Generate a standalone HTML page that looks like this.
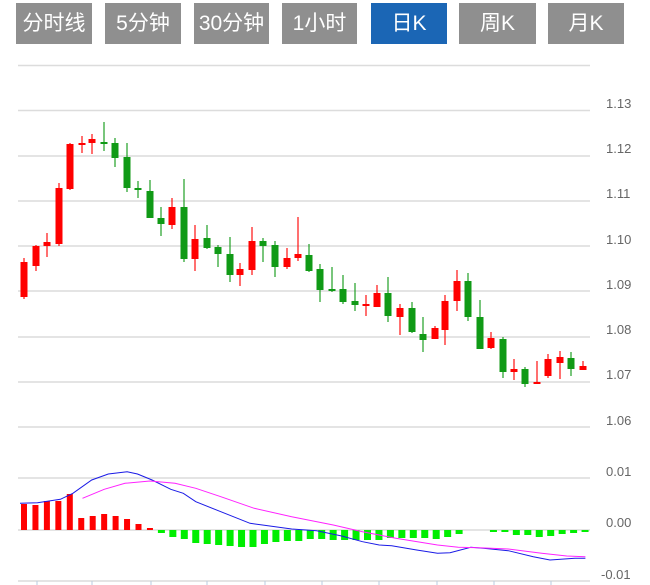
<!DOCTYPE html>
<html><head><meta charset="utf-8"><style>
body{margin:0;background:#fff;width:650px;height:585px;overflow:hidden;font-family:"Liberation Sans","Noto Sans CJK SC",sans-serif}
.b{position:absolute;top:3px;height:41px;background:#8f8f8f;color:#fff;font-size:21px;line-height:41px;text-align:center}
.b.on{background:#1b66b5}
svg{position:absolute;left:0;top:0}
</style></head><body>
<div class="b" style="left:16px;width:76px">分时线</div>
<div class="b" style="left:105px;width:76px">5分钟</div>
<div class="b" style="left:194px;width:75px">30分钟</div>
<div class="b" style="left:282px;width:75px">1小时</div>
<div class="b on" style="left:371px;width:76px">日K</div>
<div class="b" style="left:459px;width:77px">周K</div>
<div class="b" style="left:548px;width:76px">月K</div>
<svg id="s" width="650" height="585" font-family="Liberation Sans, sans-serif" font-size="13" fill="#666">
<g stroke="#dcdcdc" stroke-width="1.5">
<line x1="18" x2="590" y1="65.5" y2="65.5"/><line x1="18" x2="590" y1="110.5" y2="110.5"/>
<line x1="18" x2="590" y1="156" y2="156"/><line x1="18" x2="590" y1="201" y2="201"/>
<line x1="18" x2="590" y1="246" y2="246"/><line x1="18" x2="590" y1="291" y2="291"/>
<line x1="18" x2="590" y1="337" y2="337"/><line x1="18" x2="590" y1="382" y2="382"/>
<line x1="18" x2="590" y1="427" y2="427"/><line x1="18" x2="590" y1="478" y2="478"/>
<line x1="18" x2="590" y1="530" y2="530"/><line x1="18" x2="590" y1="581" y2="581"/>
</g>
<g>
<text x="606" y="108">1.13</text><text x="606" y="153">1.12</text><text x="606" y="198">1.11</text>
<text x="606" y="244">1.10</text><text x="606" y="289">1.09</text><text x="606" y="334">1.08</text>
<text x="606" y="379">1.07</text><text x="606" y="425">1.06</text>
<text x="606" y="476">0.01</text><text x="606" y="527">0.00</text><text x="601" y="579">-0.01</text>
</g>
<g id="tk" stroke="#b8cbe0"></g>
<g id="c"></g>
</svg>
<script>
var ns="http://www.w3.org/2000/svg",g=document.getElementById('c'),tk=document.getElementById('tk');
function el(n,a,p){var e=document.createElementNS(ns,n);for(var k in a)e.setAttribute(k,a[k]);(p||g).appendChild(e);return e}
[37,92,151,207,265,322,379,437,494,551].forEach(function(x){el('line',{x1:x,x2:x,y1:581,y2:585},tk)});
var C=[[24,'r',262,297,258,299],[36,'r',246,266,245,271],[47,'r',242,246,233,257],[59,'r',188,244,183,246],[70,'r',144,189,143,190],
[82,'r',143,145,136,153],[92,'r',139,143,134,154],[104,'g',142,144,122,151],[115,'g',143,158,138,167],[127,'g',157,188,143,192],
[138,'g',188,190,181,198],[150,'g',191,218,180,218],[161,'g',218,224,207,236],[172,'r',207,225,198,229],[184,'g',207,259,179,262],
[195,'r',239,259,225,271],[207,'g',238,248,225,249],[218,'g',247,254,245,267],[230,'g',254,275,237,282],[240,'r',269,275,263,286],
[252,'r',241,270,227,275],[263,'g',241,246,238,262],[275,'g',245,267,241,277],[287,'r',258,267,248,269],[298,'r',254,258,217,261],
[309,'g',255,271,244,272],[320,'g',269,290,264,302],[332,'g',289,291,267,292],[343,'g',289,302,275,304],[355,'g',301,305,283,311],
[366,'r',304,305,295,316],[377,'r',293,307,285,307],[388,'g',293,316,277,322],[400,'r',308,317,304,335],[412,'g',308,332,302,333],
[423,'g',334,340,317,352],[435,'r',328,339,326,339],[445,'r',301,330,295,345],[457,'r',281,301,270,311],[468,'g',281,317,273,321],
[480,'g',317,349,300,349],[491,'r',338,348,332,349],[503,'g',339,372,337,378],[514,'r',369,372,359,380],[525,'g',369,384,367,387],
[537,'r',382,384,361,384],[548,'r',359,376,354,378],[560,'r',357,363,351,379],[571,'g',358,369,352,376],[583,'r',366,370,361,370]];
C.forEach(function(c){var col=c[1]=='r'?'#ff0000':'#109a16';
el('line',{x1:c[0],x2:c[0],y1:c[4],y2:c[5],stroke:col,'stroke-width':1.5,'stroke-opacity':0.75});
el('rect',{x:c[0]-3.5,y:c[2],width:7,height:Math.max(2,c[3]-c[2]),fill:col});});
var H=[504,505,501,501,494,518,516,514,516,519,524,528,533,537,539,543,544,545,546,547,547,544,542,541,541,539,539,540,540,540,540,540,538,538,538,538,539,537,534,531,531,532,532,535,535,537,536,534,533,532];
H.forEach(function(y,i){var x=24+11.45*i;if(y<530)el('rect',{x:x-3,y:y,width:6,height:530-y,fill:'#ff0000'});
else if(y>531||i<39)el('rect',{x:x-3.5,y:530,width:7,height:y-530,fill:'#00ee00'});});
function pl(pts,col){el('polyline',{points:pts.map(function(p){return (p[0]/2.4).toFixed(1)+','+(450+p[1]/3).toFixed(1)}).join(' '),fill:'none',stroke:col,'stroke-width':1})}
pl([[48,160],[90,158],[145,148],[175,130],[220,90],[260,72],[305,65],[330,72],[365,90],[410,118],[440,130],[470,155],[530,185],[600,220],[630,225],[700,237],[760,242],[820,258],[870,275],[910,285],[940,287],[1000,300],[1050,310],[1080,308],[1130,292],[1160,295],[1220,302],[1280,320],[1320,330],[1380,325],[1405,325]],'#1a1ae6');
pl([[198,145],[250,118],[300,100],[360,93],[420,100],[470,115],[530,140],[610,175],[700,200],[800,225],[870,245],[950,265],[1050,285],[1100,292],[1150,293],[1220,297],[1300,310],[1360,318],[1405,320]],'#ff22ff');
</script>
</body></html>
